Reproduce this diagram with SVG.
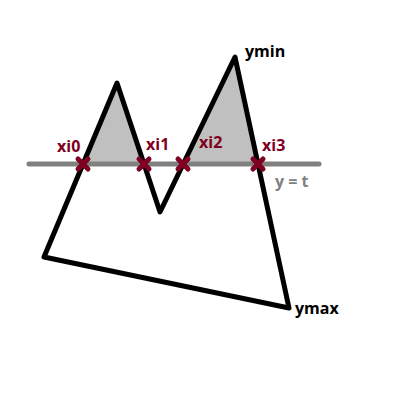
<svg xmlns="http://www.w3.org/2000/svg" width="400" height="400" viewBox="0 0 400 400">
<style>
.lbl{font-family:"Open Sans","Liberation Sans",sans-serif;font-weight:bold;font-size:16px}
.red{fill:#7f0020}
.blk{fill:#000}
.gry{fill:#808080}
.x{stroke:#7f0020;stroke-width:5;stroke-linecap:round}
</style>
<rect width="400" height="400" fill="#fff"/>
<g id="fill">
<polygon points="83,164 117,83 144,164" fill="#c0c0c0"/>
<polygon points="183,164 235,57 258,164" fill="#c0c0c0"/>
</g>
<g id="line-t">
<line x1="29" y1="164" x2="319" y2="164" stroke="#808080" stroke-width="5" stroke-linecap="round"/>
</g>
<g id="polygon">
<polygon points="44,257 117,83 160,212 235,57 289,308" fill="none" stroke="#000" stroke-width="5" stroke-linejoin="round"/>
</g>
<g id="crosses">
<path class="x" d="M78,159 L88,169 M88,159 L78,169"/>
<path class="x" d="M139,159 L149,169 M149,159 L139,169"/>
<path class="x" d="M178,159 L188,169 M188,159 L178,169"/>
<path class="x" d="M253,159 L263,169 M263,159 L253,169"/>
</g>
<g id="labels">
<text class="lbl red" x="57" y="152">xi0</text>
<text class="lbl red" x="146" y="150">xi1</text>
<text class="lbl red" x="199" y="148">xi2</text>
<text class="lbl red" x="262" y="151">xi3</text>
<text class="lbl blk" x="245" y="57">ymin</text>
<text class="lbl gry" x="275" y="187">y = t</text>
<text class="lbl blk" x="295" y="314">ymax</text>
</g>
</svg>
